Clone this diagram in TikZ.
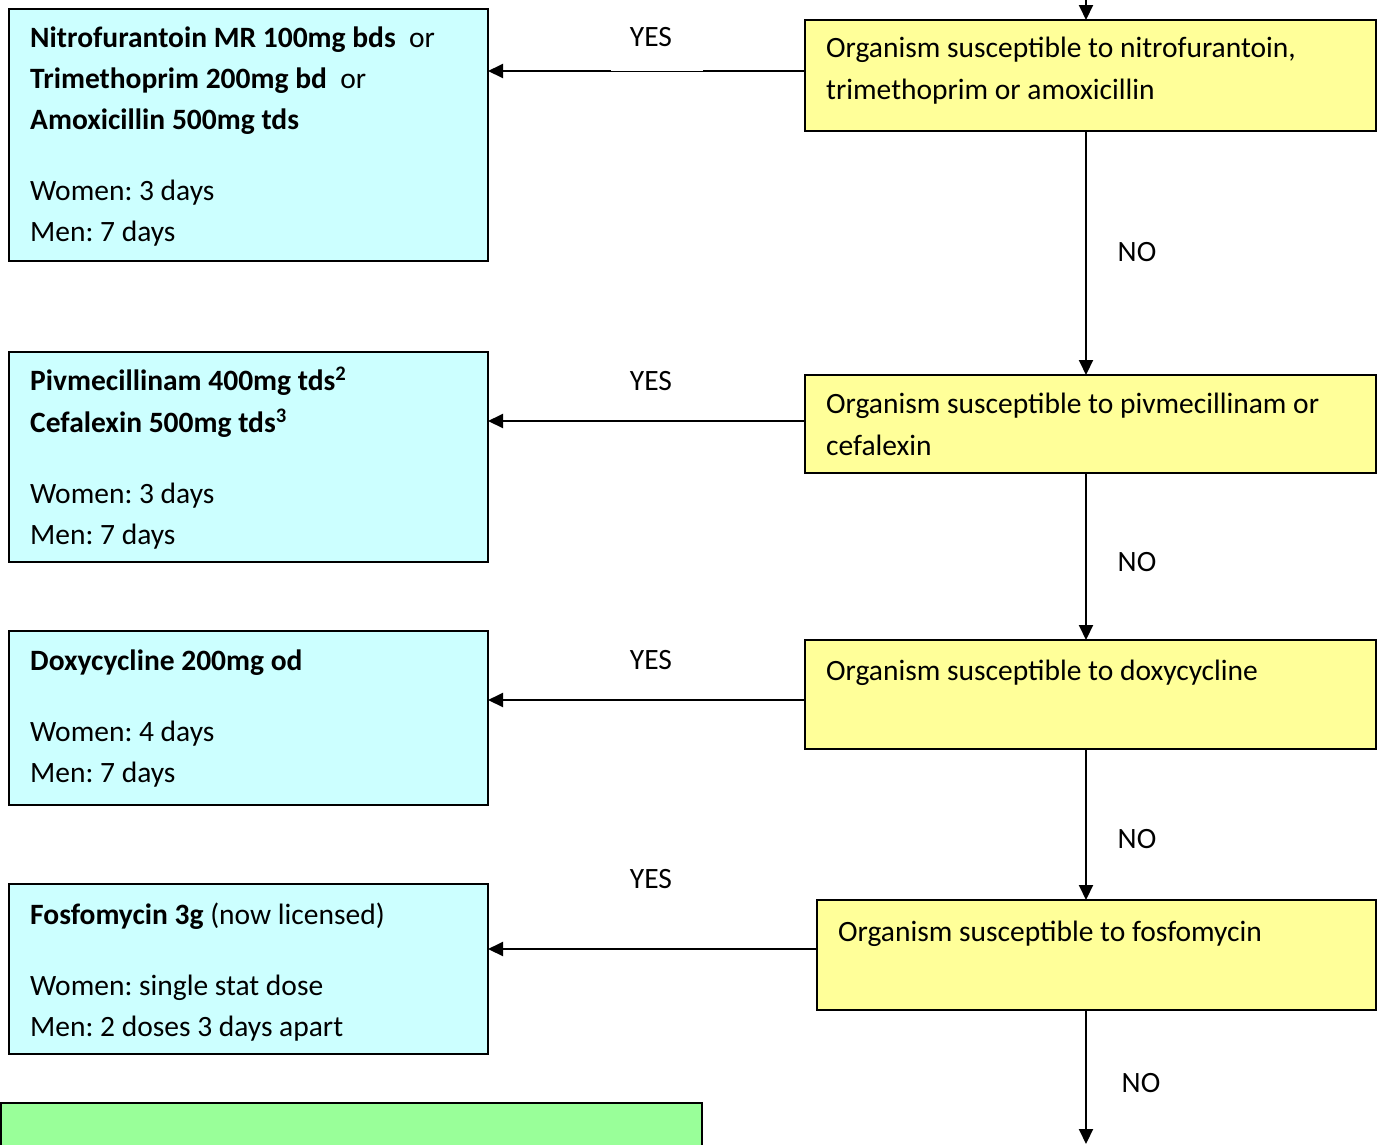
\documentclass[tikz,border=0pt]{standalone}
\usepackage{fontspec}
\setmainfont{Carlito}
\usetikzlibrary{arrows.meta}
\definecolor{bluefill}{HTML}{CCFFFF}
\definecolor{yellowfill}{HTML}{FFFF99}
\definecolor{greenfill}{HTML}{99FF99}
\frenchspacing
\begin{document}
\begin{tikzpicture}[x=1pt,y=-1pt,
  box/.style={draw=black, line width=2pt, anchor=north west, inner sep=0pt, outer sep=0pt},
  bluebox/.style={box, fill=bluefill, minimum width=479pt},
  yellowbox/.style={box, fill=yellowfill},
  greenbox/.style={box, fill=greenfill},
  txt/.style={anchor=base west, inner sep=0pt, font=\fontsize{29.5}{35}\selectfont},
  lbl/.style={anchor=base, inner sep=0pt, font=\fontsize{29.5}{35}\selectfont},
  arr/.style={line width=2pt, -{Triangle[length=15pt,width=14pt]}}]
\useasboundingbox[fill=white] (0,0) rectangle (1384,1144);

% boxes
\node[bluebox, minimum height=252pt] (b1) at (9,9) {};
\node[yellowbox, minimum width=571pt, minimum height=111pt] (y1) at (805,20) {};
\node[bluebox, minimum height=210pt] (b2) at (9,352) {};
\node[yellowbox, minimum width=571pt, minimum height=98pt] (y2) at (805,375) {};
\node[bluebox, minimum height=174pt] (b3) at (9,631) {};
\node[yellowbox, minimum width=571pt, minimum height=109pt] (y3) at (805,640) {};
\node[bluebox, minimum height=170pt] (b4) at (9,884) {};
\node[yellowbox, minimum width=559pt, minimum height=110pt] (y4) at (817,900) {};
\node[greenbox, minimum width=701pt, minimum height=60pt] (g) at (1,1103) {};

% texts, box 1
\node[txt] (b1a) at (30,47) {\textbf{Nitrofurantoin MR 100mg bds}\ \ or};
\node[txt] (b1b) at (30,88) {\textbf{Trimethoprim 200mg bd}\ \ or};
\node[txt] (b1c) at (30,129) {\textbf{Amoxicillin 500mg tds}};
\node[txt] (b1d) at (30,200) {Women: 3 days};
\node[txt] (b1e) at (30,241) {Men: 7 days};
\node[txt] (y1a) at (826,57) {Organism susceptible to nitrofurantoin,};
\node[txt] (y1b) at (826,99) {trimethoprim or amoxicillin};
% box 2
\node[txt] (b2a) at (30,390) {\textbf{Pivmecillinam 400mg tds\textsuperscript{2}}};
\node[txt] (b2b) at (30,432) {\textbf{Cefalexin 500mg tds\textsuperscript{3}}};
\node[txt] (b2c) at (30,503) {Women: 3 days};
\node[txt] (b2d) at (30,544) {Men: 7 days};
\node[txt] (y2a) at (826,413) {Organism susceptible to pivmecillinam or};
\node[txt] (y2b) at (826,455) {cefalexin};
% box 3
\node[txt] (b3a) at (30,670) {\textbf{Doxycycline 200mg od}};
\node[txt] (b3b) at (30,741) {Women: 4 days};
\node[txt] (b3c) at (30,782) {Men: 7 days};
\node[txt] (y3a) at (826,680) {Organism susceptible to doxycycline};
% box 4
\node[txt] (b4a) at (30,924) {\textbf{Fosfomycin 3g} (now licensed)};
\node[txt] (b4b) at (30,995) {Women: single stat dose};
\node[txt] (b4c) at (30,1036) {Men: 2 doses 3 days apart};
\node[txt] (y4a) at (838,941) {Organism susceptible to fosfomycin};

% column coordinates
\coordinate (top) at (1086,0);
\coordinate (bot) at (1086,1144);

% horizontal arrows
\draw[arr] ([yshift=4.5pt]y1.west) -- ([yshift=4.5pt]y1.west -| b1.east);
\fill[white] (611,30) rectangle (703,70.6);
\draw[arr] ([yshift=3pt]y2.west) -- ([yshift=3pt]y2.west -| b2.east);
\draw[arr] ([yshift=-5.5pt]y3.west) -- ([yshift=-5.5pt]y3.west -| b3.east);
\draw[arr] ([yshift=6pt]y4.west) -- ([yshift=6pt]y4.west -| b4.east);

% vertical arrows
\draw[arr] (top) -- (y1.north -| top);
\draw[arr] (y1.south -| top) -- (y2.north -| top);
\draw[arr] (y2.south -| top) -- (y3.north -| top);
\draw[arr] (y3.south -| top) -- (y4.north -| top);
\draw[arr] (y4.south -| top) -- (bot);

% labels
\node[lbl] (yes1) at (651,46) {YES};
\node[lbl] (yes2) at (651,390) {YES};
\node[lbl] (yes3) at (651,669) {YES};
\node[lbl] (yes4) at (651,888) {YES};
\node[lbl] (no1) at (1137,261) {NO};
\node[lbl] (no2) at (1137,571) {NO};
\node[lbl] (no3) at (1137,848) {NO};
\node[lbl] (no4) at (1141,1092) {NO};
\end{tikzpicture}
\end{document}
